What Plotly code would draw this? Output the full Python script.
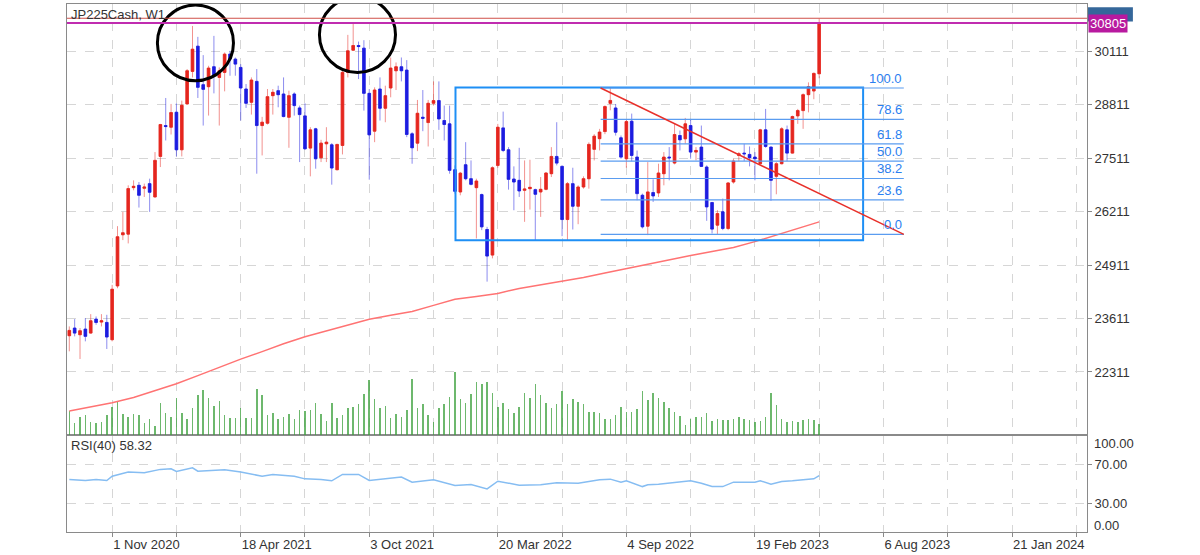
import pandas as pd
import plotly.graph_objects as go

# weekly bars, week 0 = 6 Sep 2020
start = pd.Timestamp("2020-09-06")

opens = [23193, 23379, 23217, 23354, 23257, 23597, 23525, 23516, 23096, 24405,
         25650, 25666, 26798, 26854, 26782, 26895, 26571, 27558, 28309, 28269,
         28633, 27719, 28835, 29627, 30241, 29304, 29255, 29740, 29481, 29603,
         30048, 29926, 29724, 29198, 28875, 29384, 28309, 28366, 29037, 29158,
         29077, 28511, 29077, 28738, 28544, 27760, 28229, 27525, 27865, 27840,
         27234, 27824, 29603, 30144, 30257, 30193, 29093, 28172, 29198, 28730,
         29223, 29643, 29740, 29659, 28107, 27881, 28511, 28382, 28851, 28916,
         28431, 28350, 27234, 26692, 27355, 27015, 26797, 26628, 25779, 25156,
         27339, 28252, 27719, 27007, 26975, 26733, 26773, 26749, 26692, 26757,
         27137, 27557, 27315, 26021, 26894, 26345, 26813, 27015, 27730, 27990,
         28163, 28850, 28737, 28010, 27501, 28414, 27541, 26612, 25860, 26677,
         26669, 27137, 27541, 27396, 28067, 27986, 28309, 27663, 27784, 27299,
         26434, 25885, 26208, 25804, 26935, 27582, 27638, 27606, 27541, 27380,
         28204, 27784, 27073, 27380, 28204, 27638, 28544, 28673, 29061, 29150,
         29570]
highs = [23419, 23597, 23379, 23621, 23718, 23662, 23718, 23702, 24430, 25860,
         26208, 26854, 26975, 26935, 26895, 27016, 27663, 28350, 28980, 28835,
         28851, 28916, 29684, 30734, 30468, 30023, 29764, 30492, 29724, 30088,
         30128, 29966, 29805, 29320, 29481, 29684, 28520, 29198, 29198, 29279,
         29481, 29158, 29118, 28795, 28851, 28269, 28253, 27962, 28269, 27881,
         27865, 29643, 30516, 30791, 30354, 30387, 29198, 29239, 29481, 29279,
         29966, 29845, 29966, 29902, 28148, 28932, 29174, 28932, 29384, 29384,
         28795, 28795, 27339, 27180, 27905, 27460, 27015, 26652, 25843, 27315,
         28349, 28648, 27783, 27315, 27767, 27460, 27476, 26773, 27056, 27177,
         27783, 28390, 27339, 26935, 27282, 26854, 27072, 27900, 28100, 28228,
         28800, 29223, 28834, 28067, 28446, 28600, 27700, 26652, 27420, 27000,
         27380, 27663, 27784, 28350, 28188, 28495, 28471, 27784, 28309, 27340,
         26450, 26248, 26531, 26935, 27501, 27663, 27865, 27800, 27663, 28229,
         28714, 27800, 27420, 28269, 28309, 28552, 28714, 29093, 29360, 29600,
         30915]
lows = [22813, 23177, 22627, 23056, 23241, 23460, 23419, 22870, 23056, 24349,
        25521, 25440, 26733, 26313, 26571, 26208, 26555, 27299, 27946, 28091,
        27558, 27558, 28819, 29481, 28980, 28309, 28552, 29093, 28309, 29142,
        29522, 29522, 28431, 28738, 28576, 27137, 27582, 28334, 28576, 28754,
        28511, 27768, 28552, 27420, 27719, 27073, 27259, 27420, 27420, 26870,
        27218, 27606, 29481, 30128, 29441, 28673, 26992, 27905, 28431, 28390,
        28997, 29174, 29384, 28027, 27380, 27687, 28172, 27800, 28795, 28204,
        27946, 27137, 26652, 26611, 26975, 26854, 25561, 25763, 24510, 25076,
        27282, 27662, 26749, 26248, 26571, 25965, 26264, 25520, 26086, 26733,
        27056, 27339, 25617, 25520, 25779, 25908, 26773, 26773, 27460, 27703,
        28100, 28680, 28066, 27501, 27282, 27440, 26491, 25804, 25642, 26450,
        26571, 26854, 26976, 27364, 27703, 27865, 27501, 27461, 27299, 25990,
        25682, 25666, 25763, 25763, 26895, 27444, 27444, 27315, 26976, 27364,
        27768, 26475, 26636, 27364, 27444, 27622, 28350, 28229, 28630, 28950,
        29460]
closes = [23322, 23257, 23314, 23177, 23557, 23516, 23557, 23161, 24324, 25602,
          25699, 26774, 26830, 26612, 26814, 26685, 27461, 28334, 28285, 28625,
          27719, 28802, 29643, 30168, 29239, 29190, 29708, 29514, 29643, 30047,
          29927, 29805, 29223, 28851, 29417, 28309, 28390, 29013, 29118, 29061,
          28528, 29037, 28795, 28576, 27744, 28204, 27501, 27881, 27905, 27275,
          27849, 29603, 30128, 30257, 30233, 29093, 28083, 29174, 28730, 29037,
          29708, 29740, 29643, 28091, 27768, 28608, 28487, 28851, 28916, 28471,
          28334, 27218, 26708, 27150, 27015, 26878, 26959, 25843, 25132, 27282,
          28268, 27703, 26999, 26935, 26717, 26765, 26805, 26636, 26757, 27153,
          27557, 27395, 26021, 26894, 26345, 26813, 27015, 27850, 28050, 28150,
          28770, 28920, 28147, 27541, 28406, 27581, 26652, 25844, 26693, 26596,
          27154, 27541, 27525, 28091, 27962, 28350, 27663, 27703, 27315, 26329,
          25788, 26167, 25804, 26911, 27444, 27622, 27622, 27525, 27501, 28204,
          27800, 26976, 27380, 28229, 27638, 28528, 28673, 29061, 29255, 29578,
          30805]
volumes = [2430, 1200, 1870, 2000, 1370, 1200, 1370, 2000, 2830, 3370,
           2170, 1870, 2170, 2000, 1200, 1600, 930, 3230, 2270, 1870,
           3800, 2270, 1600, 2700, 4030, 4570, 3770, 2970, 3500, 2000,
           1730, 1730, 2700, 1730, 1730, 4700, 4030, 2000, 2270, 1600,
           1870, 2130, 1600, 2570, 2430, 2570, 3230, 2130, 1470, 3230,
           1730, 2000, 2700, 2830, 3100, 4170, 5530, 3630, 2700, 2970,
           1730, 2130, 1870, 2570, 5670, 2700, 3100, 2000, 1330, 2700,
           3100, 3900, 6330, 3630, 3230, 4170, 5400, 5130, 5400, 4300,
           2830, 3300, 2600, 2230, 2870, 4230, 3800, 5170, 4100, 3300,
           2730, 3130, 4470, 3130, 3670, 3400, 3130, 2330, 2330, 2200,
           1670, 1670, 2070, 2870, 2330, 2330, 2600, 4470, 3530, 4230,
           3800, 3400, 2730, 2330, 1930, 1030, 1670, 1800, 1800, 2200,
           1430, 1670, 1530, 1530, 1670, 1800, 1670, 1530, 1300, 1430,
           1800, 4230, 3000, 1670, 1300, 1430, 1300, 1530, 1670, 1530,
           1130]

# moving average read every 4 weeks
ma_weeks = list(range(0, 141, 4))
ma_values = [21362, 21459, 21561, 21689, 21847, 22022, 22222, 22429, 22623, 22805,
             22998, 23168, 23314, 23459, 23593, 23690, 23782, 23932, 24078, 24150,
             24223, 24344, 24429, 24526, 24611, 24720, 24829, 24926, 25047, 25145,
             25242, 25339, 25484, 25642, 25812, 25964]

rsi_weeks = [0, 3, 5, 7, 8, 11, 14, 17, 19, 20, 23, 24, 29, 32, 36, 38, 42, 44, 47, 49,
             51, 54, 56, 59, 62, 64, 68, 72, 75, 78, 80, 84, 88, 91, 95, 99, 101, 103,
             104, 107, 108, 110, 112, 115, 116, 118, 120, 122, 124, 128, 129, 131, 133,
             135, 138, 139, 140]
rsi_values = [54.3, 53.3, 54.3, 53.3, 57.8, 62.0, 61.3, 64.8, 65.5, 62.7, 66.5, 63.0,
              64.4, 62.0, 57.8, 59.6, 57.8, 55.0, 54.3, 53.0, 59.6, 59.6, 53.3, 55.0,
              56.8, 51.6, 54.0, 48.1, 49.1, 44.6, 52.6, 48.4, 48.8, 50.9, 50.5, 54.0,
              54.7, 51.6, 53.0, 47.0, 48.8, 49.5, 50.9, 52.3, 53.0, 50.5, 47.0, 47.0,
              51.6, 51.6, 53.0, 49.5, 52.3, 53.0, 54.3, 55.0, 58.32]

price_ticks = [22311, 23611, 24911, 26211, 27511, 28811, 30111]
date_labels = ["1 Nov 2020", "18 Apr 2021", "3 Oct 2021", "20 Mar 2022",
               "4 Sep 2022", "19 Feb 2023", "6 Aug 2023", "21 Jan 2024"]

fib_levels = [0.0, 23.6, 38.2, 50.0, 61.8, 78.6, 100.0]
fib_low, fib_high = 25659, 29223
bid_price, ask_price = 30805, 30921


def wk(k):
    return start + pd.Timedelta(days=7 * k)


dates = [wk(k) for k in range(len(opens))]
grid_dates = [wk(k) for k in range(8, 189, 12)]
grid_text = [date_labels[i // 2] if i % 2 == 0 else "" for i in range(len(grid_dates))]

FONT = "Liberation Sans, Arial, sans-serif"
RED, BLUE = "#e5261f", "#1c1ce0"

fig = go.Figure()

fig.add_trace(go.Bar(x=dates, y=volumes, width=2 * 86400000,
                     marker=dict(color="rgba(60,160,60,0.75)", line=dict(width=0)),
                     xaxis="x2", yaxis="y", hoverinfo="skip"))

# wicks (light) then solid bodies
fig.add_trace(go.Candlestick(
    x=dates, open=opens, high=highs, low=lows, close=closes,
    xaxis="x2", yaxis="y2", whiskerwidth=0,
    increasing=dict(line=dict(color="rgba(229,38,31,0.5)", width=1), fillcolor="rgba(229,38,31,0.5)"),
    decreasing=dict(line=dict(color="rgba(28,28,224,0.5)", width=1), fillcolor="rgba(28,28,224,0.5)"),
    hoverinfo="skip"))
body_hi = [max(o, c) for o, c in zip(opens, closes)]
body_lo = [min(o, c) for o, c in zip(opens, closes)]
fig.add_trace(go.Candlestick(
    x=dates, open=opens, high=body_hi, low=body_lo, close=closes,
    xaxis="x2", yaxis="y2", whiskerwidth=0,
    increasing=dict(line=dict(color=RED, width=0.6), fillcolor=RED),
    decreasing=dict(line=dict(color=BLUE, width=0.6), fillcolor=BLUE),
    hoverinfo="skip"))

fig.add_trace(go.Scatter(x=[wk(k) for k in ma_weeks], y=ma_values, mode="lines",
                         line=dict(color="#ff7373", width=1.5), xaxis="x2", yaxis="y2",
                         hoverinfo="skip"))

fig.add_trace(go.Scatter(x=[wk(k) for k in rsi_weeks], y=rsi_values, mode="lines",
                         line=dict(color="#86bdf2", width=1.5), xaxis="x", yaxis="y3",
                         hoverinfo="skip"))

shapes = []
# circles around the two tops
for k0, k1, y0, y1 in [(16.45, 30.65, 29400, 31243), (46.7, 60.9, 29602, 31437)]:
    shapes.append(dict(type="circle", xref="x2", yref="y2", x0=wk(k0), x1=wk(k1),
                       y0=y0, y1=y1, line=dict(color="black", width=3)))
# range box
shapes.append(dict(type="rect", xref="x2", yref="y2", x0=wk(72.1), x1=wk(148.2),
                   y0=25520, y1=29238, line=dict(color="#1e8ff5", width=2)))
# fibonacci retracement
fa, fb = 99.2, 155.8
for lv in fib_levels:
    yv = fib_low + (fib_high - fib_low) * lv / 100
    shapes.append(dict(type="line", xref="x2", yref="y2", x0=wk(fa), x1=wk(fb),
                       y0=yv, y1=yv, line=dict(color="#5a9cf0", width=1.2)))
shapes.append(dict(type="line", xref="x2", yref="y2", x0=wk(fa), x1=wk(fb),
                   y0=fib_high, y1=fib_low, line=dict(color="#e8302a", width=1.5)))
# price lines
shapes.append(dict(type="line", xref="paper", yref="y2", x0=0, x1=1, y0=ask_price, y1=ask_price,
                   line=dict(color="#d0504a", width=1)))
shapes.append(dict(type="line", xref="paper", yref="y2", x0=0, x1=1, y0=bid_price, y1=bid_price,
                   line=dict(color="#c02cb0", width=2)))
# ask label box, mostly hidden behind the bid label
shapes.append(dict(type="rect", xref="paper", yref="y2", x0=1.001, x1=1.045,
                   y0=30840, y1=31190, fillcolor="#35679a", line=dict(width=0)))

annotations = [
    dict(text="JP225Cash, W1", xref="paper", yref="paper", x=0, y=1, xanchor="left",
         yanchor="top", xshift=2, yshift=-1, showarrow=False, font=dict(size=13, color="#333")),
    dict(text="RSI(40) 58.32", xref="paper", yref="paper", x=0, y=0.183, xanchor="left",
         yanchor="top", xshift=2, yshift=-1, showarrow=False, font=dict(size=13, color="#333")),
    dict(text="100.00", xref="paper", yref="y3", x=1, y=92, xanchor="left", xshift=5,
         showarrow=False, font=dict(size=13, color="#333")),
    dict(text="0.00", xref="paper", yref="y3", x=1, y=6.5, xanchor="left", xshift=5,
         showarrow=False, font=dict(size=13, color="#333")),
    dict(text=str(bid_price), xref="paper", yref="y2", x=1, y=bid_price, xanchor="left",
         xshift=1, showarrow=False, bgcolor="#b8199f", borderpad=1,
         font=dict(size=13, color="white")),
]
for lv in fib_levels:
    yv = fib_low + (fib_high - fib_low) * lv / 100
    annotations.append(dict(text=f"{lv:.1f}", xref="x2", yref="y2", x=wk(fb), y=yv,
                            xanchor="right", yanchor="bottom", showarrow=False,
                            font=dict(size=13, color="#2a7ef0")))

grid = dict(showgrid=True, gridcolor="#d6d6d6", griddash="dash", gridwidth=1)
xcommon = dict(type="date", range=[wk(-0.43), wk(190.0)], tickvals=grid_dates,
               showline=True, linecolor="#8a8a8a", mirror=True, zeroline=False,
               rangeslider=dict(visible=False), **grid)

fig.update_layout(
    width=1200, height=555,
    margin=dict(l=67, r=113, t=3, b=22),
    paper_bgcolor="white", plot_bgcolor="white",
    showlegend=False, bargap=0,
    font=dict(family=FONT, size=13, color="#333"),
    xaxis=dict(anchor="y3", ticktext=grid_text, ticks="outside", ticklen=4,
               tickcolor="#8a8a8a", ticklabelposition="outside right",
               tickfont=dict(size=13, color="#333"), **xcommon),
    xaxis2=dict(anchor="y", matches="x", showticklabels=False, **xcommon),
    yaxis=dict(domain=[0.183, 1], range=[0, 43300], visible=False, anchor="x2"),
    yaxis2=dict(overlaying="y", side="right", anchor="x2", range=[20767, 31268],
                tickvals=price_ticks, ticktext=[str(v) for v in price_ticks],
                ticks="outside", ticklen=4, tickcolor="#8a8a8a",
                showline=True, linecolor="#8a8a8a", mirror=True, zeroline=False, **grid),
    yaxis3=dict(domain=[0, 0.183], anchor="x", side="right", range=[0, 100],
                tickvals=[30, 70], ticktext=["30.00", "70.00"], ticks="outside", ticklen=4,
                tickcolor="#8a8a8a", showline=True, linecolor="#8a8a8a", mirror=True,
                zeroline=False, **grid),
    shapes=shapes,
    annotations=annotations,
)

# page body margin off so the figure sits at the window's top-left corner
fig.write_html("out.html", config={"displayModeBar": False},
               post_script="document.body.style.margin='0';")
